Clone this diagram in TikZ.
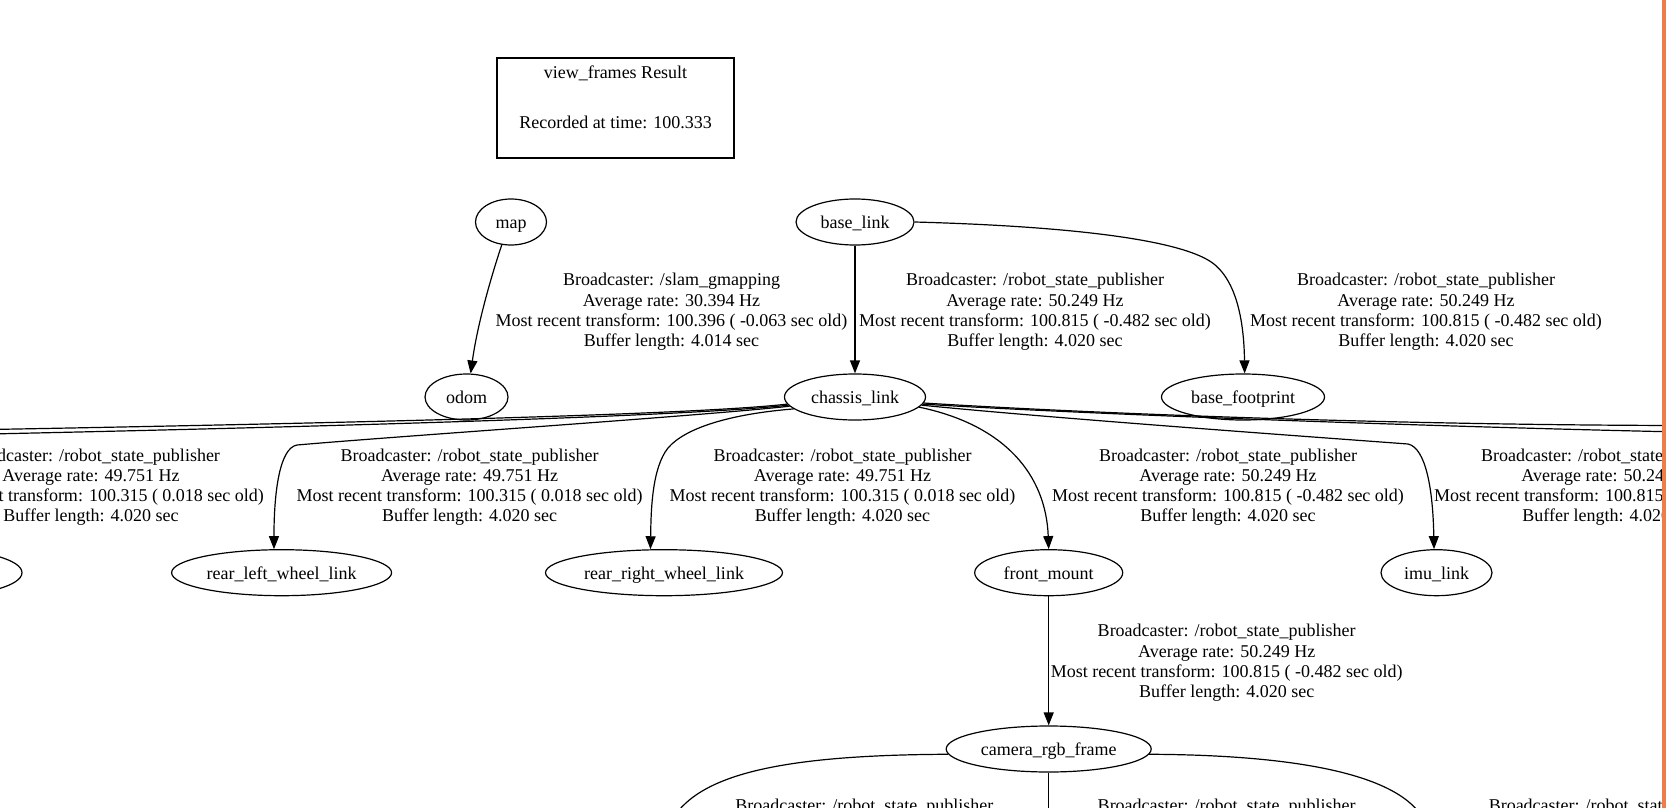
\documentclass[tikz,border=0pt]{standalone}
\usepackage{fontspec}
\setmainfont{Liberation Serif}
\usetikzlibrary{shapes.geometric,arrows.meta}
\definecolor{barorange}{RGB}{238,125,76}
\begin{document}
\begin{tikzpicture}[x=1pt,y=-1pt,
  tfnode/.style={ellipse,draw,line width=1.2pt,minimum height=46pt,inner sep=0pt,text height=14pt,text depth=1pt,font=\fontsize{18}{20.2}\selectfont},
  lbl/.style={align=center,inner sep=0pt,font=\fontsize{18}{20.2}\selectfont},
  tf/.style={line width=1.2pt,-{Triangle[length=13pt,width=10pt]}},
  tfo/.style={line width=1.2pt}]
\useasboundingbox (0,0) rectangle (1666,808);
\clip (0,0) rectangle (1666,808);
\fill[white] (0,0) rectangle (1666,808);

% title box
\node[draw,line width=2pt,minimum width=237pt,minimum height=100pt,inner sep=0pt] (title) at (615.5,108) {};
\node[lbl] (t1) at (615.5,73) {view\_frames Result};
\node[lbl] (t2) at (615.5,122) {Recorded at time: 100.333};

% frames
\node[tfnode,minimum width=71pt] (map) at (511,222) {map};
\node[tfnode,minimum width=118pt] (base) at (855,222) {base\_link};
\node[tfnode,minimum width=83pt] (odom) at (466.5,397) {odom};
\node[tfnode,minimum width=141pt] (chassis) at (855,397) {chassis\_link};
\node[tfnode,minimum width=163pt] (foot) at (1243,397) {base\_footprint};
\node[tfnode,minimum width=164pt] (leftcut) at (-60,572.7) {};
\node[tfnode,minimum width=220pt] (rlw) at (281.6,572.7) {rear\_left\_wheel\_link};
\node[tfnode,minimum width=237pt] (rrw) at (664,572.7) {rear\_right\_wheel\_link};
\node[tfnode,minimum width=148pt] (fm) at (1048.7,572.7) {front\_mount};
\node[tfnode,minimum width=111pt] (imu) at (1436.5,572.7) {imu\_link};
\node[tfnode,minimum width=205pt] (cam) at (1048.7,749) {camera\_rgb\_frame};

% free ends outside the frame
\coordinate (lout1) at (-10,429.5);
\coordinate (lout2) at (-10,434);
\coordinate (rout1) at (1680,425.5);
\coordinate (rout2) at (1680,432);
\coordinate (cb1) at (672,820);
\coordinate (cb2) at (1048.7,820);
\coordinate (cb3) at (1424,820);

% edges
\draw[tf] (map.248) .. controls (494,268) and (478,320) .. (odom.80);
\draw[tf] (base.south) -- (chassis.north);
\draw[tf] (base.east) .. controls (1060,226) and (1170,238) .. (1208,260) .. controls (1236,276) and (1244,320) .. (foot.86);

\draw[tfo] (chassis.186) .. controls (700,414) and (400,422) .. (lout1);
\draw[tfo] (chassis.187) .. controls (700,415) and (400,425) .. (lout2);
\draw[tf] (chassis.188) .. controls (700,416) and (400,436) .. (297,445) .. controls (280,448) and (274,490) .. (rlw.108);
\draw[tf] (chassis.191) .. controls (730,414) and (685,428) .. (668,448) .. controls (652,468) and (651,510) .. (rrw.120);
\draw[tf] (chassis.351) .. controls (1005,425) and (1046,475) .. (fm.north);
\draw[tf] (chassis.353) .. controls (1050,418) and (1300,436) .. (1408,444) .. controls (1426,448) and (1433,490) .. (imu.96);
\draw[tfo] (chassis.355) .. controls (1100,414) and (1400,425) .. (rout1);
\draw[tfo] (chassis.354) .. controls (1100,415) and (1450,427) .. (rout2);

\draw[tf] (fm.south) -- (cam.north);
\draw[tfo] (cam.183) .. controls (790,755) and (700,772) .. (cb1);
\draw[tfo] (cam.south) -- (cb2);
\draw[tfo] (cam.357) .. controls (1300,755) and (1400,775) .. (cb3);

% edge labels
\node[lbl] (lmap) at (671.5,311.8) {Broadcaster: /slam\_gmapping\\Average rate: 30.394 Hz\\Most recent transform: 100.396 ( -0.063 sec old)\\Buffer length: 4.014 sec};
\node[lbl] (lbc) at (1035,311.8) {Broadcaster: /robot\_state\_publisher\\Average rate: 50.249 Hz\\Most recent transform: 100.815 ( -0.482 sec old)\\Buffer length: 4.020 sec};
\node[lbl] (lbf) at (1426,311.8) {Broadcaster: /robot\_state\_publisher\\Average rate: 50.249 Hz\\Most recent transform: 100.815 ( -0.482 sec old)\\Buffer length: 4.020 sec};

\node[lbl] (llc) at (91,487.1) {Broadcaster: /robot\_state\_publisher\\Average rate: 49.751 Hz\\Most recent transform: 100.315 ( 0.018 sec old)\\Buffer length: 4.020 sec};
\node[lbl] (lrl) at (469.6,487.1) {Broadcaster: /robot\_state\_publisher\\Average rate: 49.751 Hz\\Most recent transform: 100.315 ( 0.018 sec old)\\Buffer length: 4.020 sec};
\node[lbl] (lrr) at (842.5,487.1) {Broadcaster: /robot\_state\_publisher\\Average rate: 49.751 Hz\\Most recent transform: 100.315 ( 0.018 sec old)\\Buffer length: 4.020 sec};
\node[lbl] (lfm) at (1228,487.1) {Broadcaster: /robot\_state\_publisher\\Average rate: 50.249 Hz\\Most recent transform: 100.815 ( -0.482 sec old)\\Buffer length: 4.020 sec};
\node[lbl] (limu) at (1610,487.1) {Broadcaster: /robot\_state\_publisher\\Average rate: 50.249 Hz\\Most recent transform: 100.815 ( -0.482 sec old)\\Buffer length: 4.020 sec};

\node[lbl] (lcam) at (1226.7,662.8) {Broadcaster: /robot\_state\_publisher\\Average rate: 50.249 Hz\\Most recent transform: 100.815 ( -0.482 sec old)\\Buffer length: 4.020 sec};

\node[lbl] (lb1) at (864.3,806.75) {Broadcaster: /robot\_state\_publisher};
\node[lbl] (lb2) at (1226.7,806.75) {Broadcaster: /robot\_state\_publisher};
\node[lbl] (lb3) at (1617.7,806.75) {Broadcaster: /robot\_state\_publisher};

% right edge bar
\fill[barorange] (1662,0) rectangle (1666,808);
\end{tikzpicture}
\end{document}
